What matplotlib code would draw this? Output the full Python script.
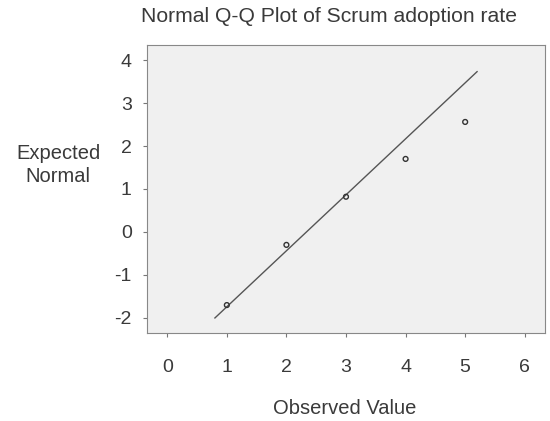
import matplotlib.pyplot as plt

plt.rcParams['font.family'] = ['Liberation Sans', 'DejaVu Sans']
plt.rcParams['axes.unicode_minus'] = False

# observed values and their expected normal scores
observed = [1, 2, 3, 4, 5]
expected = [-1.70, -0.30, 0.82, 1.70, 2.56]

# reference line end points
line_x = [0.8, 5.2]
line_y = [-2.0, 3.73]

x_ticks = [0, 1, 2, 3, 4, 5, 6]
y_ticks = [-2, -1, 0, 1, 2, 3, 4]

text_color = "#3a3a3a"

fig = plt.figure(figsize=(5.5, 4.21), dpi=100)
ax = fig.add_axes([147 / 550, 1 - 333 / 421, 398 / 550, 288 / 421])
ax.set_facecolor("#f0f0f0")

ax.plot(line_x, line_y, color="#555555", linewidth=1.0)
ax.scatter(observed, expected, s=12, facecolors="none", edgecolors="#333333", linewidths=1.0, zorder=3)

ax.set_xlim(-0.34, 6.34)
ax.set_ylim(-2.35, 4.35)
ax.set_xticks(x_ticks)
ax.set_yticks(y_ticks)
ax.tick_params(direction="out", length=3, width=0.8, color="#777777",
               labelsize=14, labelcolor=text_color)
ax.tick_params(axis="x", pad=16)
ax.tick_params(axis="y", pad=8)
for s in ax.spines.values():
    s.set_color("#888888")
    s.set_linewidth(0.8)

fig.text(329 / 550, 1 - 16 / 421, "Normal Q-Q Plot of Scrum adoption rate",
         ha="center", va="center", fontsize=15.2, color=text_color)
fig.text(345 / 550, 1 - 408 / 421, "Observed Value",
         ha="center", va="center", fontsize=14.5, color=text_color)
fig.text(58 / 550, 1 - 165 / 421, "Expected\nNormal",
         ha="center", va="center", fontsize=14.5, color=text_color, linespacing=1.25)

fig.savefig("out.png", dpi=100)
